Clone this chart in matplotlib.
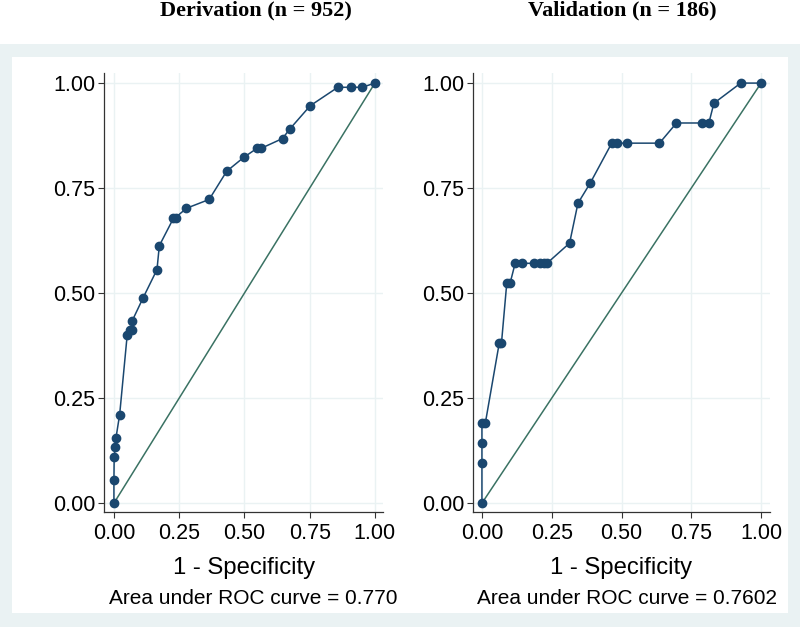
import matplotlib
matplotlib.use('Agg')
import matplotlib.pyplot as plt
from matplotlib.patches import Rectangle

# ROC points
deriv_fpr = [0.0, 0.0, 0.001, 0.005, 0.008, 0.022, 0.051, 0.061, 0.069, 0.070,
             0.112, 0.165, 0.174, 0.228, 0.236, 0.278, 0.365, 0.432, 0.497,
             0.549, 0.565, 0.646, 0.673, 0.752, 0.858, 0.909, 0.951, 1.0]
deriv_tpr = [0.0, 0.055, 0.110, 0.134, 0.156, 0.211, 0.401, 0.412, 0.413, 0.434,
             0.489, 0.556, 0.613, 0.678, 0.680, 0.702, 0.723, 0.790, 0.823,
             0.845, 0.845, 0.868, 0.890, 0.946, 0.990, 0.990, 0.990, 1.0]

valid_fpr = [0.0, 0.0, 0.0, 0.0, 0.012, 0.062, 0.070, 0.089, 0.101, 0.119,
             0.143, 0.185, 0.209, 0.221, 0.233, 0.314, 0.344, 0.388, 0.465,
             0.483, 0.520, 0.636, 0.697, 0.789, 0.813, 0.831, 0.927, 1.0]
valid_tpr = [0.0, 0.095, 0.143, 0.190, 0.190, 0.381, 0.381, 0.524, 0.524, 0.571,
             0.571, 0.571, 0.571, 0.571, 0.571, 0.619, 0.714, 0.762, 0.857,
             0.857, 0.857, 0.857, 0.905, 0.905, 0.905, 0.952, 1.0, 1.0]

titles = ['Derivation (n = 952)', 'Validation (n = 186)']
auc_labels = ['Area under ROC curve = 0.770', 'Area under ROC curve = 0.7602']
ticks = [0.0, 0.25, 0.5, 0.75, 1.0]
tick_labels = ['0.00', '0.25', '0.50', '0.75', '1.00']

navy = '#1a476f'
diag = '#3a7263'
band = '#eaf2f3'

plt.rcParams['font.family'] = ['Liberation Sans', 'DejaVu Sans']

fig = plt.figure(figsize=(8, 6.27), dpi=100)
fig.patch.set_facecolor('white')

# background band and inner white panel (figure coords)
fig.patches.append(Rectangle((0, 0), 1, 583 / 627, transform=fig.transFigure,
                             facecolor=band, edgecolor='none', zorder=-2))
fig.patches.append(Rectangle((12 / 800, 14 / 627), 776 / 800, 556 / 627,
                             transform=fig.transFigure, facecolor='white',
                             edgecolor='none', zorder=-1))

# (x, y, axes rect, xlim, title x, xlabel x, auc x) in pixels
panels = [
    (deriv_fpr, deriv_tpr, [104 / 800, 115 / 627, 279 / 800, 439 / 627], (-0.038, 1.031), 256, 244, 253),
    (valid_fpr, valid_tpr, [473 / 800, 115 / 627, 297 / 800, 439 / 627], (-0.032, 1.032), 622, 621, 627),
]

for i, (fx, ty, pos, xl, tx, lx, ax_x) in enumerate(panels):
    ax = fig.add_axes(pos)
    ax.set_facecolor('white')
    ax.plot([0, 1], [0, 1], color=diag, lw=1.1, zorder=2)
    ax.plot(fx, ty, color=navy, lw=1.1, marker='o', markersize=6, zorder=3)
    ax.set_xlim(*xl)
    ax.set_ylim(-0.021, 1.024)
    ax.set_xticks(ticks)
    ax.set_xticklabels(tick_labels)
    ax.set_yticks(ticks)
    ax.set_yticklabels(tick_labels)
    ax.grid(True, color=band, lw=1.0)
    ax.set_axisbelow(True)
    for s in ['top', 'right']:
        ax.spines[s].set_visible(False)
    for s in ['left', 'bottom']:
        ax.spines[s].set_color('#333333')
        ax.spines[s].set_linewidth(0.9)
    ax.tick_params(axis='both', labelsize=15.5, length=4.3, width=0.8, color='#333333')
    ax.tick_params(axis='x', pad=3.5)
    ax.tick_params(axis='y', pad=2)

    fig.text(tx / 800, 1 - 10 / 627, titles[i], ha='center', va='center',
             fontsize=16, fontweight='bold', family=['Liberation Serif', 'DejaVu Serif'])
    fig.text(lx / 800, 1 - 568 / 627, '1 - Specificity', ha='center', va='center',
             fontsize=17.2)
    fig.text(ax_x / 800, 1 - 599 / 627, auc_labels[i], ha='center', va='center',
             fontsize=15)

fig.savefig('out.png', dpi=100, facecolor=fig.get_facecolor())
